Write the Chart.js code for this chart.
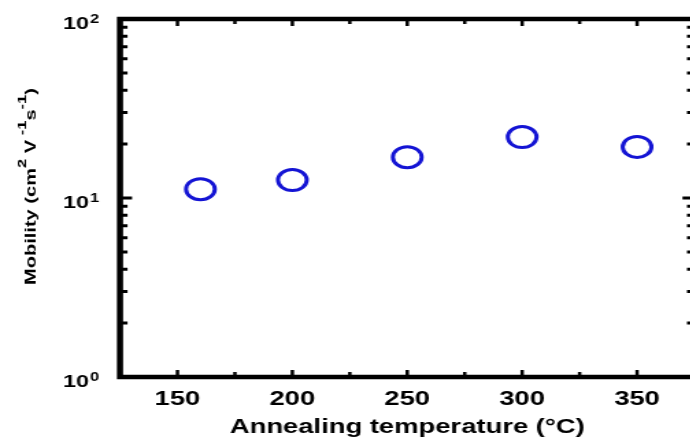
<!DOCTYPE html>
<html>
<head>
<meta charset="utf-8">
<script src="https://cdn.jsdelivr.net/npm/chart.js@4.4.1/dist/chart.umd.min.js"></script>
<style>
  html, body { margin: 0; padding: 0; background: #fff; overflow: hidden; }
  #wrap { width: 690px; height: 439px; overflow: hidden; }
  /* the source figure is stretched sideways, so the canvas is too */
  #chart { display: block; width: 700px; height: 439px; }
</style>
</head>
<body>
<div id="wrap"><canvas id="chart" width="511" height="439" style="width:700px;height:439px"></canvas></div>
<script>
// annealing temperature (C) and mobility (cm2/Vs)
const temps = [160, 200, 250, 300, 350];
const mobility = [11.2, 12.6, 16.9, 21.9, 19.3];

const xMajorTicks = [150, 200, 250, 300, 350];
const xMinorTicks = [175, 225, 275, 325];
const yLabelTicks = [1, 10, 100];
const yLabelExp = ['0', '1', '2'];
const yMinorTicks = [2, 3, 4, 5, 6, 7, 8, 9, 20, 30, 40, 50, 60, 70, 80, 90];
const yMajorTicks = [10];

const FONT = "'Liberation Sans', Arial, Helvetica, sans-serif";
Chart.defaults.font.family = FONT;
Chart.defaults.color = '#000';

function drawRuns(ctx, runs, mainFont, supFont, rise) {
    let x = 0;
    runs.forEach(([txt, sup]) => {
        ctx.font = sup ? supFont : mainFont;
        ctx.fillText(txt, x, sup ? -rise : 0);
        x += ctx.measureText(txt).width;
    });
    return x;
}

function runsWidth(ctx, runs, mainFont, supFont) {
    let w = 0;
    runs.forEach(([txt, sup]) => {
        ctx.font = sup ? supFont : mainFont;
        w += ctx.measureText(txt).width;
    });
    return w;
}

const framePlugin = {
    id: 'frame',
    afterDraw(chart) {
        const ctx = chart.ctx;
        const { left, right, top, bottom } = chart.chartArea;
        const xs = chart.scales.x, ys = chart.scales.y;
        ctx.save();
        ctx.strokeStyle = '#000';
        ctx.fillStyle = '#000';

        // box
        ctx.lineWidth = 4.5;
        ctx.strokeRect(left, top, right - left, bottom - top);

        // inward ticks on x (bottom + top)
        ctx.lineWidth = 2.5;
        const xTick = (v, len) => {
            const px = xs.getPixelForValue(v);
            ctx.beginPath();
            ctx.moveTo(px, bottom); ctx.lineTo(px, bottom - len);
            ctx.moveTo(px, top); ctx.lineTo(px, top + len);
            ctx.stroke();
        };
        xMajorTicks.forEach(v => xTick(v, 7));
        xMinorTicks.forEach(v => xTick(v, 5));

        // inward ticks on y (left + right)
        ctx.lineWidth = 3;
        const yTick = (v, len) => {
            const py = ys.getPixelForValue(v);
            ctx.beginPath();
            ctx.moveTo(left, py); ctx.lineTo(left + len, py);
            ctx.moveTo(right, py); ctx.lineTo(right - len, py);
            ctx.stroke();
        };
        yMajorTicks.forEach(v => yTick(v, 8.8));
        yMinorTicks.forEach(v => yTick(v, 5.5));

        // y tick labels 10^n
        ctx.textAlign = 'left';
        ctx.textBaseline = 'alphabetic';
        yLabelTicks.forEach((v, i) => {
            const py = ys.getPixelForValue(v) + 10;
            ctx.font = 'bold 17px ' + FONT;
            ctx.fillText('10', 46, py);
            const w = ctx.measureText('10').width;
            ctx.font = 'bold 12px ' + FONT;
            ctx.fillText(yLabelExp[i], 46 + w + 0.8, py - 6.5);
        });

        // y axis title, rotated, condensed
        const runs = [['Mobility (cm', 0], ['2', 1], [' V', 0], [' -1', 1], ['s', 0], ['-1', 1], [')', 0]];
        const mainF = 'bold 11.5px ' + FONT, supF = 'bold 9.5px ' + FONT;
        const tw = runsWidth(ctx, runs, mainF, supF);
        const sx = 197 / tw;
        ctx.translate(25.8, 186.5);
        ctx.rotate(-Math.PI / 2);
        ctx.scale(sx, 1);
        ctx.translate(-tw / 2, 0);
        drawRuns(ctx, runs, mainF, supF, 7);
        ctx.restore();
    }
};

new Chart(document.getElementById('chart'), {
    type: 'scatter',
    data: {
        datasets: [{
            data: temps.map((t, i) => ({ x: t, y: mobility[i] })),
            pointRadius: 10.5,
            pointHoverRadius: 10.5,
            pointBorderWidth: 3,
            borderColor: '#1414d4',
            backgroundColor: 'rgba(0,0,0,0)',
            showLine: false
        }]
    },
    options: {
        responsive: false,
        animation: false,
        devicePixelRatio: 1,
        layout: { autoPadding: false, padding: { top: 19, right: 4, bottom: 0, left: 0 } },
        plugins: {
            legend: { display: false },
            tooltip: { enabled: false }
        },
        scales: {
            x: {
                type: 'linear',
                position: 'bottom',
                min: 125,
                max: 375,
                afterBuildTicks: s => { s.ticks = xMajorTicks.map(v => ({ value: v })); },
                afterFit: s => { s.height = 62; s.paddingLeft = 0; s.paddingRight = 0; },
                grid: { display: false, drawTicks: false },
                border: { display: false },
                ticks: {
                    font: { size: 20, weight: 'bold' },
                    color: '#000',
                    padding: 10,
                    maxRotation: 0
                },
                title: {
                    display: true,
                    text: 'Annealing temperature (°C)',
                    font: { size: 20, weight: 'bold' },
                    color: '#000',
                    padding: { top: 0, bottom: 0 }
                }
            },
            y: {
                type: 'logarithmic',
                min: 1,
                max: 100,
                afterFit: s => { s.width = 87.6; s.paddingTop = 0; s.paddingBottom = 0; },
                grid: { display: false, drawTicks: false },
                border: { display: false },
                ticks: { display: false }
            }
        }
    },
    plugins: [framePlugin]
});
</script>
</body>
</html>
